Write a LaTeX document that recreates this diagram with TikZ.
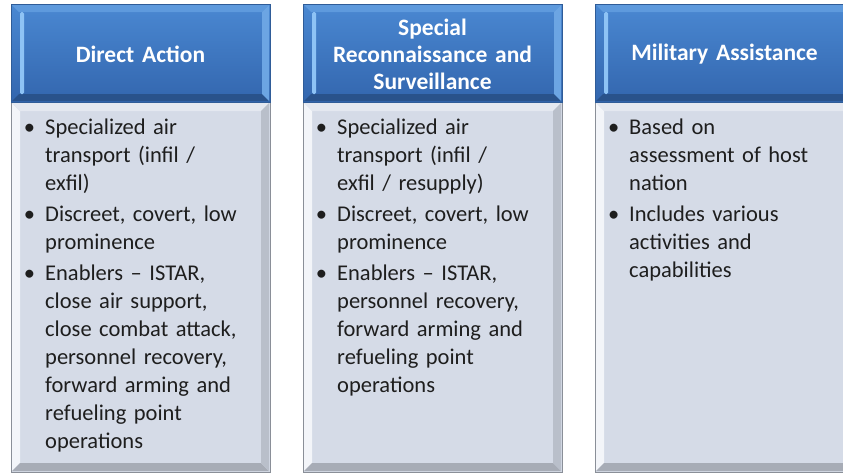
\documentclass[tikz,border=0pt]{standalone}
\usepackage{fontspec}
\setmainfont{Carlito}
\usetikzlibrary{positioning}
\definecolor{hdtop}{HTML}{4A88D2}
\definecolor{hdbot}{HTML}{3366AE}
\definecolor{hdedge}{HTML}{2F5C98}
\definecolor{hdlight}{HTML}{8EC3F5}
\definecolor{bdfill}{HTML}{D5DBE7}
\definecolor{bdedge}{HTML}{8A8F98}
\definecolor{bdlight}{HTML}{F3F5F9}
\definecolor{bddark}{HTML}{A7ACB6}
\definecolor{txt}{HTML}{1E1E1E}
\newenvironment{bulletlist}{\begin{list}{\textbullet}{\leftmargin=22pt\labelwidth=12pt\labelsep=10pt
  \itemindent=0pt\listparindent=0pt\itemsep=3pt\parsep=0pt\topsep=0pt\partopsep=0pt}}{\end{list}}
\tikzset{
  head/.style={text width=250pt,align=center,text=white,inner sep=0pt,
    font=\bfseries\fontsize{23.5}{27}\selectfont},
  items/.style={anchor=north west,text width=240pt,align=left,text=txt,inner sep=0pt,
    font=\fontsize{22.5}{28}\selectfont},
}
\begin{document}
\begin{tikzpicture}[x=1pt,y=-1pt]
    \useasboundingbox (0,0) rectangle (843,474);
    \fill[white] (0,0) rectangle (843,474);
    %% Boxes
    \foreach \bx in {11,303,595}{
        % body
        \draw[draw=bdedge,fill=bdfill] (\bx,102) rectangle ++(259,370);
        \fill[bdlight] (\bx+1,103) -- (\bx+9,111) -- (\bx+9,463) -- (\bx+1,471) -- cycle;
        \fill[bdlight!50!bdfill] (\bx+1,103) -- (\bx+258,103) -- (\bx+250,111) -- (\bx+9,111) -- cycle;
        \fill[bddark] (\bx+1,471) -- (\bx+9,463) -- (\bx+250,463) -- (\bx+258,471) -- cycle;
        \fill[bddark!60!bdfill] (\bx+258,103) -- (\bx+258,471) -- (\bx+250,463) -- (\bx+250,111) -- cycle;
        % header
        \draw[draw=hdedge,top color=hdtop,bottom color=hdbot] (\bx,4) rectangle ++(259,98);
        \fill[hdtop!70!hdlight] (\bx+1,5) -- (\bx+258,5) -- (\bx+251,12) -- (\bx+8,12) -- cycle;
        \fill[hdbot!80!black] (\bx+1,101) -- (\bx+8,94) -- (\bx+251,94) -- (\bx+258,101) -- cycle;
        \fill[hdlight!50!hdtop] (\bx+258,5) -- (\bx+258,101) -- (\bx+251,94) -- (\bx+251,12) -- cycle;
        \fill[hdlight,rounded corners=1.5pt] (\bx+9,12) rectangle (\bx+13,94);
    }
    %% Headers
    \node[head] (hda) at (140.5,54) {Direct Action};
    \node[head] (hsr) at (432.5,54) {Special\\Reconnaissance and\\Surveillance};
    \node[head] (hma) at (724.5,54) {Military Assistance};
    %% Bullets
    \node[items] (bda) at (23,106) {\begin{bulletlist}
        \item Specialized air\newline transport (infil /\newline exfil)
        \item Discreet, covert, low\newline prominence
        \item Enablers -- ISTAR,\newline close air support,\newline close combat attack,\newline personnel recovery,\newline forward arming and\newline refueling point\newline operations
    \end{bulletlist}};
    \node[items] (bsr) at (315,106) {\begin{bulletlist}
        \item Specialized air\newline transport (infil /\newline exfil / resupply)
        \item Discreet, covert, low\newline prominence
        \item Enablers -- ISTAR,\newline personnel recovery,\newline forward arming and\newline refueling point\newline operations
    \end{bulletlist}};
    \node[items] (bma) at (607,106) {\begin{bulletlist}
        \item Based on\newline assessment of host\newline nation
        \item Includes various\newline activities and\newline capabilities
    \end{bulletlist}};
\end{tikzpicture}
\end{document}
